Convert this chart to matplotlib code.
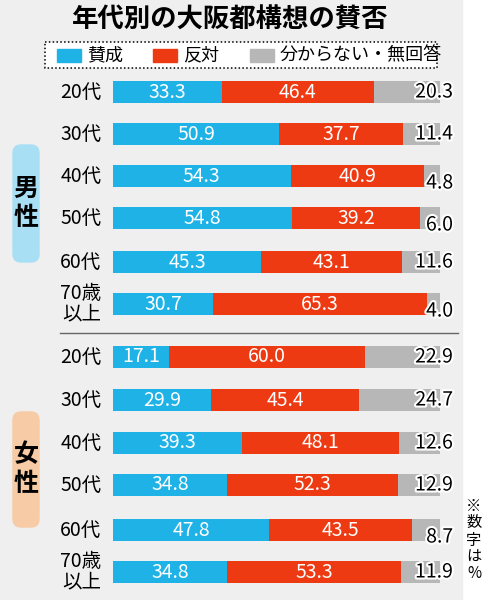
import matplotlib.pyplot as plt
from matplotlib.patches import FancyBboxPatch, Rectangle
import matplotlib.patheffects as pe

plt.rcParams['font.family'] = ['Noto Sans CJK JP', 'DejaVu Sans']

ages = ['20代', '30代', '40代', '50代', '60代', '70歳\n以上']
men_yes = [33.3, 50.9, 54.3, 54.8, 45.3, 30.7]
men_no = [46.4, 37.7, 40.9, 39.2, 43.1, 65.3]
men_dk = [20.3, 11.4, 4.8, 6.0, 11.6, 4.0]
women_yes = [17.1, 29.9, 39.3, 34.8, 47.8, 34.8]
women_no = [60.0, 45.4, 48.1, 52.3, 43.5, 53.3]
women_dk = [22.9, 24.7, 12.6, 12.9, 8.7, 11.9]
legend_labels = ['賛成', '反対', '分からない・無回答']

BLUE, RED, GRAY = '#1fb2e6', '#ee3a12', '#b7b7b7'

fig = plt.figure(figsize=(4.83, 6), dpi=100)
bg = fig.add_axes([0, 0, 1, 1])
bg.set_xlim(0, 483)
bg.set_ylim(600, 0)
bg.axis('off')
bg.add_patch(Rectangle((0, 0), 462, 600, color='#efefef', zorder=0))

bg.text(230, 20, '年代別の大阪都構想の賛否', ha='center', va='center',
        fontsize=19, fontweight='bold')
bg.add_patch(Rectangle((45, 42), 392, 26, facecolor='white', edgecolor='black',
                       linestyle=(0, (1, 1.5)), lw=1.1))
for x, lab, c in zip([57, 153, 250], legend_labels, [BLUE, RED, GRAY]):
    bg.add_patch(Rectangle((x, 49), 24, 13, color=c))
    bg.text(x + 30, 55, lab, ha='left', va='center', fontsize=13)

bg.plot([60, 458], [333, 333], color='#666666', lw=1)

for (y0, y1, lab, c) in [(145, 262, '男\n性', '#a9dff5'), (412, 527, '女\n性', '#f7cba5')]:
    bg.add_patch(FancyBboxPatch((13, y0), 26, y1 - y0, boxstyle='round,pad=0,rounding_size=8',
                                color=c))
    bg.text(26, (y0 + y1) / 2, lab, ha='center', va='center', fontsize=18,
            fontweight='bold', linespacing=1.3)

bg.text(474, 540, '※\n数\n字\nは\n%', ha='center', va='center', fontsize=11,
        linespacing=1.0)

ax = fig.add_axes([113 / 483, 0, 327 / 483, 1])
ax.set_xlim(0, 100)
ax.set_ylim(600, 0)
ax.axis('off')

rows_y = [92, 134, 176, 218, 262, 304, 357, 400, 443, 485, 530, 572]
yes = men_yes + women_yes
no = men_no + women_no
dk = men_dk + women_dk
labels = ages + ages
h = 22
ax.barh(rows_y, yes, height=h, color=BLUE)
ax.barh(rows_y, no, left=yes, height=h, color=RED)
ax.barh(rows_y, dk, left=[a + b for a, b in zip(yes, no)], height=h, color=GRAY)

stroke = [pe.withStroke(linewidth=3, foreground='white')]
for y, a, b, c, lab in zip(rows_y, yes, no, dk, labels):
    ax.text(a / 2, y, f'{a:.1f}', ha='center', va='center', color='white', fontsize=14)
    ax.text(a + b / 2, y, f'{b:.1f}', ha='center', va='center', color='white', fontsize=14)
    ax.text(104, y + (7 if c < 9 else 0), f'{c:.1f}', ha='right', va='center',
            color='black', fontsize=14, path_effects=stroke)
    ax.text(-3.5, y, lab, ha='right', va='center', fontsize=14, linespacing=0.95)

fig.savefig('out.png', dpi=100)
